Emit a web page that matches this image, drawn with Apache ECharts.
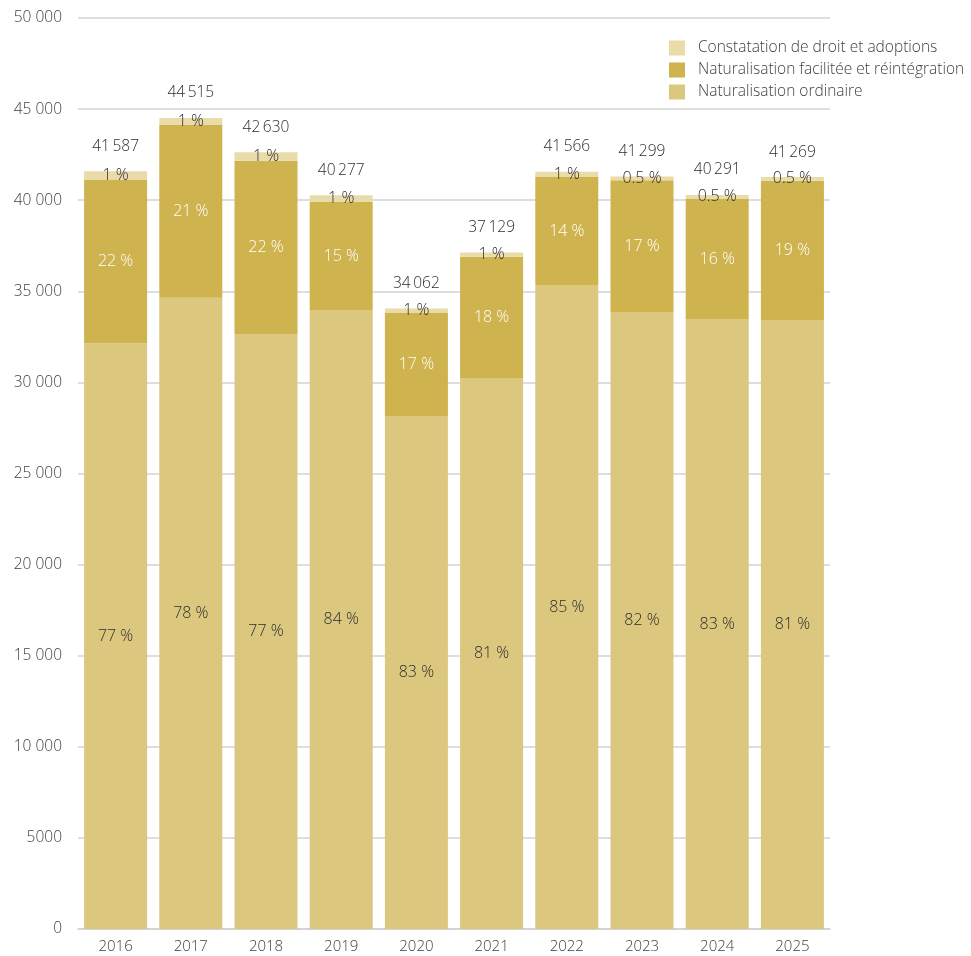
<!DOCTYPE html>
<html><head><meta charset="utf-8">
<script src="https://cdn.jsdelivr.net/npm/echarts@6/dist/echarts.min.js"></script>
<style>html,body{margin:0;padding:0;background:#fff}#c{width:971px;height:956px}</style>
</head><body><div id="c"></div>
<script>
const years = ['2016','2017','2018','2019','2020','2021','2022','2023','2024','2025'];
const ordinaire   = [32150, 34650, 32660, 33970, 28160, 30240, 35350, 33865, 33480, 33420];
const facilitee   = [8960, 9480, 9510, 5930, 5670, 6660, 5925, 7225, 6590, 7649];
const constatation= [477, 385, 460, 377, 232, 229, 291, 209, 221, 200];
const totals      = [41587, 44515, 42630, 40277, 34062, 37129, 41566, 41299, 40291, 41269];
const pctOrd  = ['77 %','78 %','77 %','84 %','83 %','81 %','85 %','82 %','83 %','81 %'];
const pctFac  = ['22 %','21 %','22 %','15 %','17 %','18 %','14 %','17 %','16 %','19 %'];
const pctCon  = ['1 %','1 %','1 %','1 %','1 %','1 %','1 %','0.5 %','0.5 %','0.5 %'];
const names = ['Naturalisation ordinaire','Naturalisation facilitée et réintégration','Constatation de droit et adoptions'];

const FONT = 'Open Sans';
const W = 300;
const fmtThousands = v => {
  const s = String(v);
  return v >= 10000 ? s.replace(/\B(?=(\d{3})+(?!\d))/g, ' ') : s;
};
const fmtTotal = v => String(v).replace(/\B(?=(\d{3})+(?!\d))/g, '\u2009');

const chart = echarts.init(document.getElementById('c'), null, {renderer:'canvas'});
chart.setOption({
  animation: false,
  textStyle: {fontFamily: FONT},
  grid: {left: 78, right: 141, top: 18, bottom: 27},
  legend: {
    data: [names[2], names[1], names[0]],
    orient: 'vertical', left: 659, top: 35,
    padding: [5, 0, 5, 10],
    backgroundColor: '#fff',
    itemWidth: 16, itemHeight: 15, itemGap: 6,
    icon: 'rect',
    textStyle: {color: '#3f3f3f', fontSize: 15.5, fontWeight: W, fontFamily: FONT, padding: [0,0,0,8]}
  },
  xAxis: {
    type: 'category', data: years,
    axisLine: {lineStyle: {color: '#cfcfcf', width: 1.5}},
    axisTick: {show: false},
    axisLabel: {color: '#3f3f3f', fontSize: 15, fontWeight: W, margin: 10, fontFamily: FONT}
  },
  yAxis: {
    type: 'value', min: 0, max: 50000, interval: 5000,
    axisLine: {show: false}, axisTick: {show: false},
    splitLine: {lineStyle: {color: '#d3d3d3', width: 1.5}},
    axisLabel: {color: '#3f3f3f', fontSize: 15.5, fontWeight: W, margin: 16, formatter: fmtThousands, fontFamily: FONT}
  },
  series: [
    {
      name: names[0], type: 'bar', stack: 's', data: ordinaire, barWidth: 63,
      itemStyle: {color: '#DBC77E'},
      label: {show: true, position: 'inside', color: '#2e2e2e', fontSize: 16, fontWeight: W, fontFamily: FONT,
        formatter: p => pctOrd[p.dataIndex]}
    },
    {
      name: names[1], type: 'bar', stack: 's', data: facilitee, barWidth: 63,
      itemStyle: {color: '#CEB34F'},
      label: {show: true, position: 'inside', color: '#fff', fontSize: 16, fontWeight: W, fontFamily: FONT,
        formatter: p => pctFac[p.dataIndex]}
    },
    {
      name: names[2], type: 'bar', stack: 's', data: constatation, barWidth: 63,
      itemStyle: {color: '#E9DCAA'},
      label: {show: true, position: 'inside', color: '#2e2e2e', fontSize: 16, fontWeight: W, fontFamily: FONT,
        formatter: p => pctCon[p.dataIndex]}
    },
    {
      name: 'Total', type: 'bar', data: totals, barWidth: 63, barGap: '-100%',
      itemStyle: {color: 'rgba(0,0,0,0)'}, silent: true, z: 10,
      label: {show: true, position: 'top', distance: 17, color: '#2e2e2e', fontSize: 15.5, fontWeight: W, fontFamily: FONT,
        formatter: p => fmtTotal(p.value)}
    }
  ]
});
</script></body></html>
